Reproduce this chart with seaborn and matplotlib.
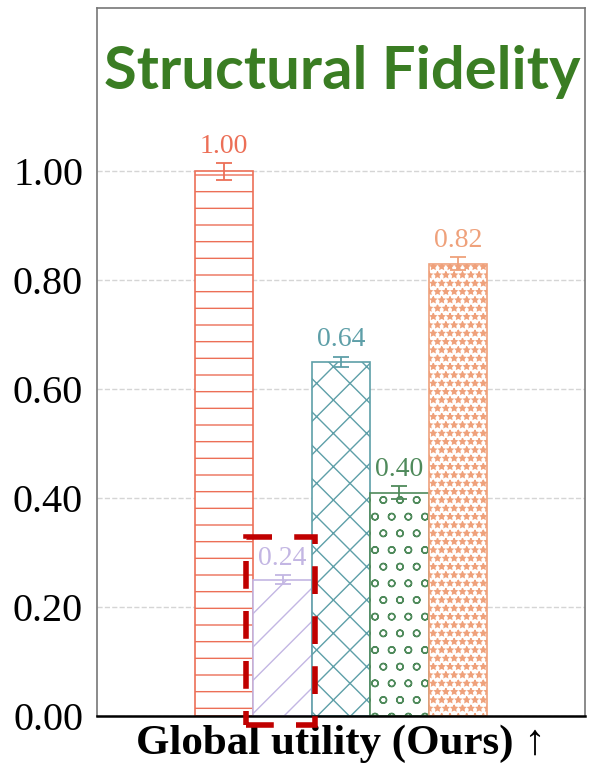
import matplotlib
matplotlib.use("Agg")
import matplotlib.pyplot as plt
import seaborn as sns
import pandas as pd
from matplotlib.patches import Rectangle

# ---- data ----
category = ["Global utility (Ours) \u2191"]
methods = ["M1", "M2", "M3", "M4", "M5"]
heights = [1.00, 0.25, 0.65, 0.41, 0.83]
labels = ["1.00", "0.24", "0.64", "0.40", "0.82"]
errors = [0.015, 0.008, 0.010, 0.012, 0.012]
colors = ["#EC6F57", "#C3B6E3", "#5E9FA8", "#4F8A5B", "#EFA17B"]
hatches = ["-", "/", "x", "o", "**"]
yticks = [0.0, 0.2, 0.4, 0.6, 0.8, 1.0]

sns.set_style("white")
plt.rcParams["hatch.linewidth"] = 1.0
plt.rcParams["text.color"] = "black"
plt.rcParams["xtick.labelcolor"] = "black"
plt.rcParams["ytick.labelcolor"] = "black"

df = pd.DataFrame({"cat": category * len(methods), "method": methods, "value": heights})

fig = plt.figure(figsize=(5.95, 7.64), dpi=100)
ax = fig.add_axes([0.163, 0.063, 0.82, 0.9265])

sns.barplot(data=df, x="cat", y="value", hue="method", palette=colors,
            width=0.8, errorbar=None, legend=False, ax=ax, saturation=1)

for i, p in enumerate(ax.patches):
    p.set_facecolor("white")
    p.set_edgecolor(colors[i])
    p.set_hatch(hatches[i])
    p.set_linewidth(1.2)
    cx = p.get_x() + p.get_width() / 2
    ax.errorbar(cx, heights[i], yerr=errors[i], color=colors[i], capsize=5.5,
                elinewidth=1.3, capthick=1.3, zorder=5)
    ax.text(cx, heights[i] + errors[i] + 0.008, labels[i], ha="center", va="bottom",
            color=colors[i], fontsize=20, family="Liberation Serif", zorder=6)

# highlight box around second bar
p2 = ax.patches[1]
rect = Rectangle((p2.get_x() - 0.02, -0.017), p2.get_width() + 0.03, heights[1] + 0.095,
                 fill=False, edgecolor="#C00000", linewidth=4,
                 linestyle=(0, (5, 4)), clip_on=False, zorder=7)
ax.add_patch(rect)

ax.set_ylim(0, 1.3)
ax.set_xlim(-0.668, 0.668)
ax.set_yticks(yticks)
ax.set_yticklabels([f"{v:.2f}" for v in yticks], family="Liberation Serif", fontsize=29,
                   color="black")
ax.set_xticks([0])
ax.set_xticklabels(category, family=["Liberation Serif", "DejaVu Serif"],
                   fontsize=31, fontweight="bold", color="black")
ax.set_xlabel("")
ax.set_ylabel("")
ax.tick_params(axis="y", direction="out", length=6, width=1, color="#666666", pad=4)
ax.tick_params(axis="x", direction="out", length=5, width=1, color="#666666", pad=1)
ax.yaxis.grid(True, linestyle="--", color="#D5D5D5", linewidth=1)
ax.set_axisbelow(True)

for s in ["left", "top", "right"]:
    ax.spines[s].set_color("#777777")
    ax.spines[s].set_linewidth(1.2)
ax.spines["bottom"].set_color("black")
ax.spines["bottom"].set_linewidth(1.8)

ax.text(0.502, 0.91, "Structural Fidelity", transform=ax.transAxes, ha="center",
        va="center", color="#3A7D23", fontsize=43, fontweight="bold", family="Lato")

fig.savefig("out.png", dpi=100)
